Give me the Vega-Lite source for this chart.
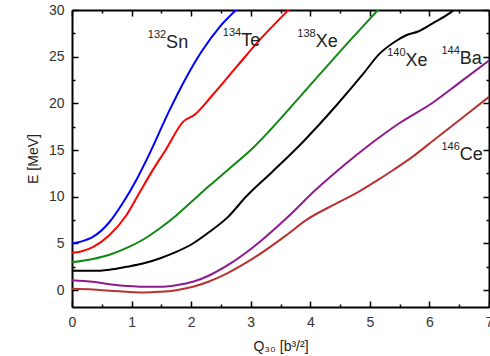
{
  "$schema": "https://vega.github.io/schema/vega-lite/v6.json",
  "width": 417,
  "height": 297,
  "autosize": {"type": "none"},
  "padding": {"left": 72, "top": 10, "right": 1, "bottom": 49},
  "background": "white",
  "config": {
    "view": {"stroke": null},
    "font": "Liberation Sans",
    "axis": {
      "domainColor": "black",
      "domainWidth": 2,
      "tickColor": "black",
      "tickWidth": 1.5,
      "labelFont": "Liberation Sans",
      "labelFontSize": 14,
      "labelColor": "#333333",
      "titleFont": "Liberation Sans",
      "titleFontSize": 14,
      "titleFontWeight": "normal",
      "titleColor": "#222222",
      "grid": false
    }
  },
  "datasets": {
    "curves": [
      {"nucleus": "132Sn", "q": 0, "E": 5.0}, {"nucleus": "132Sn", "q": 0.15, "E": 5.2}, {"nucleus": "132Sn", "q": 0.35, "E": 5.7}, {"nucleus": "132Sn", "q": 0.63, "E": 7.3}, {"nucleus": "132Sn", "q": 0.85, "E": 9.3}, {"nucleus": "132Sn", "q": 1.08, "E": 11.8}, {"nucleus": "132Sn", "q": 1.27, "E": 14.2}, {"nucleus": "132Sn", "q": 1.64, "E": 19.3}, {"nucleus": "132Sn", "q": 1.92, "E": 22.8}, {"nucleus": "132Sn", "q": 2.17, "E": 25.5}, {"nucleus": "132Sn", "q": 2.48, "E": 28.2}, {"nucleus": "132Sn", "q": 2.77, "E": 30.1},
      {"nucleus": "134Te", "q": 0, "E": 4.0}, {"nucleus": "134Te", "q": 0.15, "E": 4.15}, {"nucleus": "134Te", "q": 0.35, "E": 4.6}, {"nucleus": "134Te", "q": 0.63, "E": 5.9}, {"nucleus": "134Te", "q": 0.91, "E": 8.0}, {"nucleus": "134Te", "q": 1.13, "E": 10.4}, {"nucleus": "134Te", "q": 1.35, "E": 12.8}, {"nucleus": "134Te", "q": 1.58, "E": 15.1}, {"nucleus": "134Te", "q": 1.86, "E": 18.0}, {"nucleus": "134Te", "q": 2.06, "E": 18.8}, {"nucleus": "134Te", "q": 2.36, "E": 20.9}, {"nucleus": "134Te", "q": 2.76, "E": 23.9}, {"nucleus": "134Te", "q": 3.15, "E": 26.8}, {"nucleus": "134Te", "q": 3.6, "E": 29.8}, {"nucleus": "134Te", "q": 3.72, "E": 30.6},
      {"nucleus": "138Xe", "q": 0, "E": 3.0}, {"nucleus": "138Xe", "q": 0.35, "E": 3.35}, {"nucleus": "138Xe", "q": 0.63, "E": 3.8}, {"nucleus": "138Xe", "q": 0.91, "E": 4.5}, {"nucleus": "138Xe", "q": 1.19, "E": 5.4}, {"nucleus": "138Xe", "q": 1.47, "E": 6.6}, {"nucleus": "138Xe", "q": 1.75, "E": 8.0}, {"nucleus": "138Xe", "q": 2.03, "E": 9.6}, {"nucleus": "138Xe", "q": 2.31, "E": 11.2}, {"nucleus": "138Xe", "q": 2.62, "E": 12.9}, {"nucleus": "138Xe", "q": 3.0, "E": 15.0}, {"nucleus": "138Xe", "q": 3.32, "E": 17.1}, {"nucleus": "138Xe", "q": 3.88, "E": 21.1}, {"nucleus": "138Xe", "q": 4.66, "E": 26.7}, {"nucleus": "138Xe", "q": 5.15, "E": 30.1},
      {"nucleus": "140Xe", "q": 0, "E": 2.07}, {"nucleus": "140Xe", "q": 0.35, "E": 2.07}, {"nucleus": "140Xe", "q": 0.63, "E": 2.2}, {"nucleus": "140Xe", "q": 0.91, "E": 2.5}, {"nucleus": "140Xe", "q": 1.19, "E": 2.85}, {"nucleus": "140Xe", "q": 1.47, "E": 3.4}, {"nucleus": "140Xe", "q": 1.75, "E": 4.1}, {"nucleus": "140Xe", "q": 2.03, "E": 5.0}, {"nucleus": "140Xe", "q": 2.31, "E": 6.25}, {"nucleus": "140Xe", "q": 2.62, "E": 7.85}, {"nucleus": "140Xe", "q": 2.92, "E": 10.0}, {"nucleus": "140Xe", "q": 3.35, "E": 12.6}, {"nucleus": "140Xe", "q": 3.88, "E": 15.9}, {"nucleus": "140Xe", "q": 4.44, "E": 19.8}, {"nucleus": "140Xe", "q": 4.88, "E": 23.1}, {"nucleus": "140Xe", "q": 5.16, "E": 25.3}, {"nucleus": "140Xe", "q": 5.42, "E": 26.6}, {"nucleus": "140Xe", "q": 5.61, "E": 27.3}, {"nucleus": "140Xe", "q": 5.81, "E": 27.7}, {"nucleus": "140Xe", "q": 6.06, "E": 28.6}, {"nucleus": "140Xe", "q": 6.37, "E": 29.8}, {"nucleus": "140Xe", "q": 6.45, "E": 30.2},
      {"nucleus": "144Ba", "q": 0, "E": 1.07}, {"nucleus": "144Ba", "q": 0.35, "E": 0.9}, {"nucleus": "144Ba", "q": 0.63, "E": 0.64}, {"nucleus": "144Ba", "q": 0.91, "E": 0.46}, {"nucleus": "144Ba", "q": 1.19, "E": 0.36}, {"nucleus": "144Ba", "q": 1.47, "E": 0.36}, {"nucleus": "144Ba", "q": 1.75, "E": 0.54}, {"nucleus": "144Ba", "q": 2.03, "E": 0.9}, {"nucleus": "144Ba", "q": 2.31, "E": 1.6}, {"nucleus": "144Ba", "q": 2.62, "E": 2.7}, {"nucleus": "144Ba", "q": 3.04, "E": 4.6}, {"nucleus": "144Ba", "q": 3.6, "E": 7.7}, {"nucleus": "144Ba", "q": 4.1, "E": 10.8}, {"nucleus": "144Ba", "q": 4.55, "E": 13.3}, {"nucleus": "144Ba", "q": 5.0, "E": 15.6}, {"nucleus": "144Ba", "q": 5.5, "E": 17.9}, {"nucleus": "144Ba", "q": 6.06, "E": 20.1}, {"nucleus": "144Ba", "q": 6.5, "E": 22.2}, {"nucleus": "144Ba", "q": 7.0, "E": 24.6},
      {"nucleus": "146Ce", "q": 0, "E": 0.15}, {"nucleus": "146Ce", "q": 0.35, "E": 0.07}, {"nucleus": "146Ce", "q": 0.63, "E": -0.07}, {"nucleus": "146Ce", "q": 0.91, "E": -0.18}, {"nucleus": "146Ce", "q": 1.19, "E": -0.25}, {"nucleus": "146Ce", "q": 1.47, "E": -0.18}, {"nucleus": "146Ce", "q": 1.75, "E": 0.0}, {"nucleus": "146Ce", "q": 2.03, "E": 0.36}, {"nucleus": "146Ce", "q": 2.31, "E": 0.96}, {"nucleus": "146Ce", "q": 2.62, "E": 1.86}, {"nucleus": "146Ce", "q": 3.04, "E": 3.4}, {"nucleus": "146Ce", "q": 3.6, "E": 5.9}, {"nucleus": "146Ce", "q": 3.93, "E": 7.5}, {"nucleus": "146Ce", "q": 4.44, "E": 9.3}, {"nucleus": "146Ce", "q": 4.83, "E": 10.6}, {"nucleus": "146Ce", "q": 5.11, "E": 11.7}, {"nucleus": "146Ce", "q": 5.4, "E": 12.9}, {"nucleus": "146Ce", "q": 5.72, "E": 14.3}, {"nucleus": "146Ce", "q": 6.06, "E": 16.0}, {"nucleus": "146Ce", "q": 6.5, "E": 18.2}, {"nucleus": "146Ce", "q": 7.0, "E": 20.7}
    ],
    "labels": [
      {"mass": "132", "sym": "Sn", "lx": 1.58, "ly": 25.9},
      {"mass": "134", "sym": "Te", "lx": 2.84, "ly": 26.15},
      {"mass": "138", "sym": "Xe", "lx": 4.09, "ly": 26.0},
      {"mass": "140", "sym": "Xe", "lx": 5.6, "ly": 24.0},
      {"mass": "144", "sym": "Ba", "lx": 6.51, "ly": 24.2},
      {"mass": "146", "sym": "Ce", "lx": 6.51, "ly": 13.9}
    ]
  },
  "resolve": {"axis": {"x": "independent", "y": "independent"}},
  "layer": [
    {
      "data": {"name": "curves"},
      "mark": {"type": "line", "clip": true, "strokeWidth": 2, "interpolate": "monotone"},
      "encoding": {
        "x": {
          "field": "q", "type": "quantitative",
          "scale": {"domain": [0, 7], "nice": false, "zero": false},
          "axis": {
            "orient": "bottom",
            "values": [0, 0.5, 1, 1.5, 2, 2.5, 3, 3.5, 4, 4.5, 5, 5.5, 6, 6.5, 7],
            "labelExpr": "datum.value % 1 === 0 ? format(datum.value, 'd') : ''",
            "tickSize": {"condition": {"test": "datum.value % 1 === 0", "value": -6}, "value": -3},
            "labelPadding": 14,
            "labelFlush": false,
            "title": "Q₃₀ [b³/²]",
            "titlePadding": 10
          }
        },
        "y": {
          "field": "E", "type": "quantitative",
          "scale": {"domain": [-1.8, 30], "nice": false, "zero": false},
          "axis": {
            "orient": "left",
            "values": [0, 2.5, 5, 7.5, 10, 12.5, 15, 17.5, 20, 22.5, 25, 27.5, 30],
            "labelExpr": "datum.value % 5 === 0 ? format(datum.value, 'd') : ''",
            "tickSize": {"condition": {"test": "datum.value % 5 === 0", "value": -6}, "value": -3},
            "labelPadding": 14,
            "labelFlush": false,
            "title": "E [MeV]",
            "titlePadding": 8
          }
        },
        "color": {
          "field": "nucleus", "type": "nominal",
          "scale": {
            "domain": ["132Sn", "134Te", "138Xe", "140Xe", "144Ba", "146Ce"],
            "range": ["#0000ff", "#ff0000", "#118811", "#000000", "#8e1a8e", "#b83232"]
          },
          "legend": null
        }
      }
    },
    {
      "data": {"name": "labels"},
      "mark": {"type": "text", "align": "right", "baseline": "alphabetic", "fontSize": 11, "dy": -10, "color": "#222222", "font": "Liberation Sans"},
      "encoding": {
        "x": {
          "field": "lx", "type": "quantitative",
          "axis": {
            "orient": "top",
            "values": [0, 0.5, 1, 1.5, 2, 2.5, 3, 3.5, 4, 4.5, 5, 5.5, 6, 6.5, 7],
            "labels": false, "title": null,
            "tickSize": {"condition": {"test": "datum.value % 1 === 0", "value": -6}, "value": -3}
          }
        },
        "y": {
          "field": "ly", "type": "quantitative",
          "axis": {
            "orient": "right",
            "values": [0, 2.5, 5, 7.5, 10, 12.5, 15, 17.5, 20, 22.5, 25, 27.5, 30],
            "labels": false, "title": null,
            "tickSize": {"condition": {"test": "datum.value % 5 === 0", "value": -6}, "value": -3}
          }
        },
        "text": {"field": "mass"}
      }
    },
    {
      "data": {"name": "labels"},
      "mark": {"type": "text", "align": "left", "baseline": "alphabetic", "fontSize": 18, "color": "#222222", "font": "Liberation Sans"},
      "encoding": {
        "x": {"field": "lx", "type": "quantitative", "axis": null},
        "y": {"field": "ly", "type": "quantitative", "axis": null},
        "text": {"field": "sym"}
      }
    }
  ]
}
